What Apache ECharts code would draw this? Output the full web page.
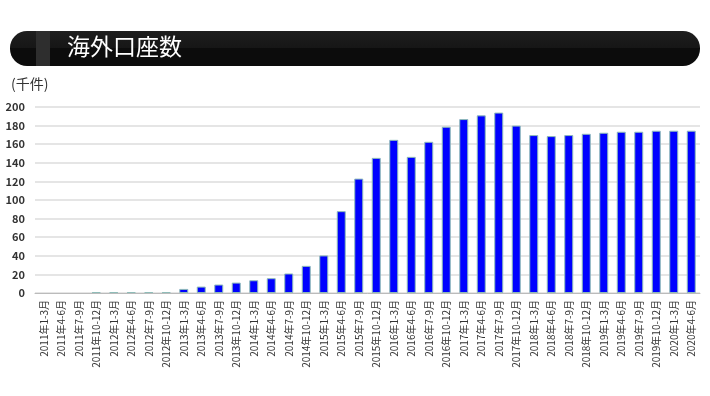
<!DOCTYPE html>
<html>
<head>
<meta charset="utf-8">
<script src="https://cdn.jsdelivr.net/npm/echarts@6/dist/echarts.min.js"></script>
<style>html,body{margin:0;padding:0;background:#fff;}#c{width:710px;height:396px;}</style>
</head>
<body>
<div id="c"></div>
<script>
const categories = [
  "2011年1-3月","2011年4-6月","2011年7-9月","2011年10-12月",
  "2012年1-3月","2012年4-6月","2012年7-9月","2012年10-12月",
  "2013年1-3月","2013年4-6月","2013年7-9月","2013年10-12月",
  "2014年1-3月","2014年4-6月","2014年7-9月","2014年10-12月",
  "2015年1-3月","2015年4-6月","2015年7-9月","2015年10-12月",
  "2016年1-3月","2016年4-6月","2016年7-9月","2016年10-12月",
  "2017年1-3月","2017年4-6月","2017年7-9月","2017年10-12月",
  "2018年1-3月","2018年4-6月","2018年7-9月","2018年10-12月",
  "2019年1-3月","2019年4-6月","2019年7-9月","2019年10-12月",
  "2020年1-3月","2020年4-6月"
];
const accounts = [
  0, 0, 0, 1,
  1, 1, 1, 1,
  4.4, 6.9, 9.1, 11.2,
  13.7, 15.9, 21, 29.2,
  40.4, 88, 123, 145.3,
  164.7, 146.4, 162.6, 178.8,
  187, 191, 194, 180,
  169.8, 168.7, 169.8, 171.2,
  172.3, 173.4, 173.4, 174.5,
  174.5, 174.5
];
const yTicks = { min: 0, max: 200, interval: 20 };
const titleText = "海外口座数";
const unitText = "(千件)";

const chart = echarts.init(document.getElementById('c'), null, { renderer: 'canvas' });
const font = '"Noto Sans CJK JP", "Noto Sans", sans-serif';
chart.setOption({
  animation: false,
  textStyle: { fontFamily: font },
  graphic: [
    { type: 'rect', shape: { x: 10, y: 31, width: 690, height: 35, r: 17 },
      style: { fill: new echarts.graphic.LinearGradient(0, 0, 0, 1, [
        { offset: 0, color: '#1e1e1e' }, { offset: 0.5, color: '#161616' },
        { offset: 0.5, color: '#0c0c0c' }, { offset: 1, color: '#0c0c0c' }]) } },
    { type: 'rect', shape: { x: 36, y: 31, width: 14, height: 35 }, style: { fill: '#2e2e2e' } },
    { type: 'text', left: 67, top: 35, style: { text: titleText, fill: '#ffffff', fontSize: 23, fontFamily: font } },
    { type: 'text', left: 11, top: 77, style: { text: unitText, fill: '#333333', fontSize: 14, fontFamily: font } },
    { type: 'rect', shape: { x: 0, y: 368, width: 710, height: 28 }, style: { fill: '#ffffff' }, z: 100 }
  ],
  grid: { left: 35, right: 10, top: 107, bottom: 103, containLabel: false },
  xAxis: {
    type: 'category',
    data: categories,
    axisLine: { lineStyle: { color: '#bbbbbb', width: 1 } },
    axisTick: { show: false },
    axisLabel: { rotate: 90, interval: 0, fontSize: 10, color: '#333', margin: 7, fontFamily: font }
  },
  yAxis: {
    type: 'value',
    min: yTicks.min, max: yTicks.max, interval: yTicks.interval,
    axisLine: { show: false },
    axisTick: { show: false },
    axisLabel: { fontSize: 11, color: '#333', margin: 10, fontWeight: 'bold', fontFamily: font },
    splitLine: { lineStyle: { color: '#dddddd', width: 1.5 } }
  },
  series: [{
    type: 'bar',
    data: accounts.map(v => v > 0 ? v : { value: v, itemStyle: { borderWidth: 0, opacity: 0 } }),
    barWidth: 9,
    itemStyle: { color: '#0000ff', borderColor: '#8fbcb8', borderWidth: 1 }
  }]
});
</script>
</body>
</html>
